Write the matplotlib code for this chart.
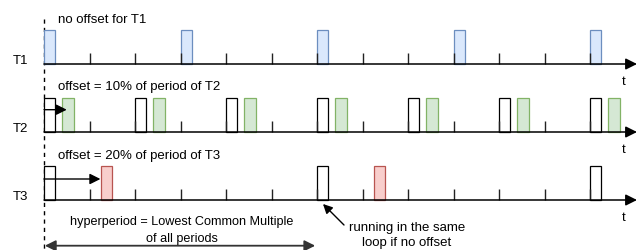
import matplotlib.pyplot as plt
from matplotlib.patches import Rectangle

# --- data (time in tick units) ---
tasks = ["T1", "T2", "T3"]
captions = ["no offset for T1", "offset = 10% of period of T2", "offset = 20% of period of T3"]
periods = [3, 2, 6]
offsets = [0, 0.4, 1.25]
t1_jobs = [0, 3, 6, 9, 12]
t2_nominal = [0, 2, 4, 6, 8, 10, 12]
t2_jobs = [0.4, 2.4, 4.4, 6.4, 8.4, 10.4, 12.4]
t3_nominal = [0, 6, 12]
t3_jobs = [1.25, 7.25]
tick_times = [1, 2, 3, 4, 5, 6, 7, 8, 9, 10, 11, 12]
hyperperiod = 6

# --- layout (pixels on y, tick units on x) ---
px = 45.5          # pixels per time unit
x0 = 44            # pixel of t = 0
def u(p):
    return (p - x0) / px

base = [65, 133, 201]
box_h = 34
box_w = 0.25
tick_h = 11
FONT = "Liberation Sans"
fs = 9.5

fig = plt.figure(figsize=(6.4, 2.51), dpi=100)
ax = fig.add_axes([0, 0, 1, 1])
ax.set_xlim(u(0), u(640))
ax.set_ylim(251, 0)
ax.axis("off")

styles = [
    [(t1_jobs, "#dae8fc", "#6c8ebf")],
    [(t2_nominal, "white", "black"), (t2_jobs, "#d5e8d4", "#82b366")],
    [(t3_nominal, "white", "black"), (t3_jobs, "#f8cecc", "#b85450")],
]

for i, name in enumerate(tasks):
    y = base[i]
    for jobs, fc, ec in styles[i]:
        for t in jobs:
            ax.add_patch(Rectangle((t, y - box_h), box_w, box_h, facecolor=fc,
                                   edgecolor=ec, lw=0.9, zorder=2))
    ax.vlines(tick_times, y - tick_h, y, color="#222222", lw=1.0, zorder=3)
    ax.annotate("", xy=(u(637), y), xytext=(0, y),
                arrowprops=dict(arrowstyle="-|>", color="black", lw=1.1,
                                mutation_scale=17, shrinkA=0, shrinkB=0), zorder=4)
    ax.text(u(13), y - 4, name, fontsize=fs, family=FONT, va="center", ha="left")
    ax.text(u(624), y + 17, "t", fontsize=fs, family=FONT, va="center", ha="center")

ax.text(u(58), 20, captions[0], fontsize=fs, family=FONT, va="center", ha="left")
ax.text(u(58), 87.5, captions[1], fontsize=fs, family=FONT, va="center", ha="left")
ax.text(u(58), 156, captions[2], fontsize=fs, family=FONT, va="center", ha="left")

# offset arrows
ax.annotate("", xy=(offsets[1] + 0.1, 110.7), xytext=(0, 110.7),
            arrowprops=dict(arrowstyle="-|>", color="black", lw=1.0,
                            mutation_scale=16, shrinkA=0, shrinkB=0), zorder=5)
ax.annotate("", xy=(offsets[2] - 0.01, 180), xytext=(0, 180),
            arrowprops=dict(arrowstyle="-|>", color="black", lw=1.0,
                            mutation_scale=16, shrinkA=0, shrinkB=0), zorder=5)

# dashed origin line
ax.plot([0, 0], [20, 251], color="black", lw=1.0, ls=(0, (3, 3)), zorder=1)

# hyperperiod arrow
ax.annotate("", xy=(hyperperiod - 0.04, 246.7), xytext=(0.02, 246.7),
            arrowprops=dict(arrowstyle="<|-|>", color="#333333", lw=1.3,
                            mutation_scale=16, shrinkA=0, shrinkB=0))
ax.text(u(182), 222, "hyperperiod = Lowest Common Multiple", fontsize=9.1,
        family=FONT, va="center", ha="center")
ax.text(u(182), 239, "of all periods", fontsize=9.1, family=FONT, va="center", ha="center")

# pointer to coinciding release
ax.annotate("", xy=(u(323), 205), xytext=(u(344), 226),
            arrowprops=dict(arrowstyle="-|>", color="black", lw=1.0,
                            mutation_scale=14, shrinkA=0, shrinkB=0))
ax.text(u(407), 228, "running in the same", fontsize=fs, family=FONT, va="center", ha="center")
ax.text(u(407), 243, "loop if no offset", fontsize=fs, family=FONT, va="center", ha="center")

fig.savefig("out.png", dpi=100)
